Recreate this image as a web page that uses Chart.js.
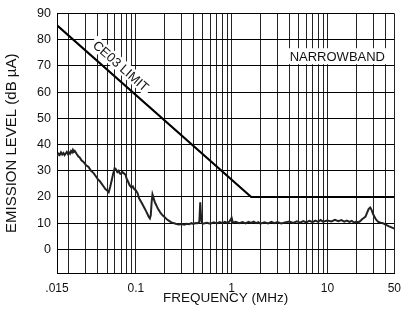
<!DOCTYPE html>
<html>
<head>
<meta charset="utf-8">
<script src="https://cdn.jsdelivr.net/npm/chart.js@4"></script>
<style>
  body { margin: 0; background: #fff; }
  canvas { display: block; }
</style>
</head>
<body>
<canvas id="emiChart" width="409" height="312"></canvas>
<script>
// frequency grid / tick values (MHz)
const freqTicks = [0.015, 0.02, 0.03, 0.04, 0.05, 0.06, 0.07, 0.08, 0.09,
    0.1, 0.2, 0.3, 0.4, 0.5, 0.6, 0.7, 0.8, 0.9,
    1, 2, 3, 4, 5, 6, 7, 8, 9,
    10, 20, 30, 40, 50];
const freqLabels = { '0.015': '.015', '0.1': '0.1', '1': '1', '10': '10', '50': '50' };
const levelTicks = [0, 10, 20, 30, 40, 50, 60, 70, 80, 90];

// CE03 limit line
const limitFreq = [0.015, 1.6, 50];
const limitLevel = [85.5, 20, 20];

// measured narrowband emission
const emiFreq = [
    0.015, 0.0155, 0.016, 0.0165, 0.017, 0.0175, 0.018, 0.0185, 0.019, 0.0195,
    0.02, 0.0205, 0.021, 0.0215, 0.022, 0.0225, 0.023, 0.024, 0.025, 0.026,
    0.027, 0.028, 0.029, 0.03, 0.032, 0.034, 0.036, 0.038, 0.04, 0.042,
    0.044, 0.046, 0.048, 0.05, 0.052, 0.054, 0.056, 0.058, 0.06, 0.062,
    0.064, 0.066, 0.068, 0.07, 0.072, 0.075, 0.078, 0.08, 0.083, 0.086,
    0.09, 0.093, 0.096, 0.1, 0.104, 0.108, 0.112, 0.116, 0.12, 0.124,
    0.128, 0.132, 0.136, 0.14, 0.143, 0.146, 0.149, 0.152, 0.156, 0.16,
    0.165, 0.17, 0.175, 0.18, 0.19, 0.2, 0.21, 0.22, 0.23, 0.24,
    0.26, 0.28, 0.3, 0.32, 0.34, 0.36, 0.38, 0.4, 0.42, 0.44,
    0.46, 0.47, 0.48, 0.49, 0.5, 0.55, 0.6, 0.65, 0.7, 0.75,
    0.8, 0.85, 0.9, 0.95, 1.0, 1.03, 1.1, 1.2, 1.3, 1.4,
    1.5, 1.6, 1.7, 1.8, 1.9, 2.0, 2.2, 2.4, 2.6, 2.8,
    3.0, 3.3, 3.6, 4.0, 4.4, 4.8, 5.2, 5.6, 6.0, 6.5,
    7.0, 7.5, 8.0, 8.5, 9.0, 10, 11, 12, 13, 14,
    15, 16, 17, 18, 19, 20, 21, 22, 23, 24,
    25, 26, 27, 28, 29, 30, 31, 32, 33, 34,
    36, 38, 40, 42, 44, 46, 48, 50
];
const emiLevel = [
    35.5, 36.5, 36, 37, 36.2, 36.8, 36, 36.6, 37.2, 36.4,
    37, 36.5, 37.5, 37, 38, 37.2, 37.6, 36.5, 35.5, 35,
    34, 33.5, 33, 32.2, 31.5, 30, 29.2, 28, 26.8, 26,
    25, 24, 23, 22.5, 21.8, 24, 26.5, 29, 31, 30.5,
    29.5, 30, 29, 28.8, 29.5, 29, 28.5, 27, 25.8, 24.5,
    23.5, 24, 23, 22.5, 21.5, 19.5, 18.5, 17.5, 16.5, 15.5,
    14.5, 13.5, 12.5, 11.8, 13, 18, 21, 20, 18.5, 17.5,
    16.5, 15.5, 14.8, 14, 13, 12.3, 11.5, 11, 10.5, 10.2,
    9.8, 9.5, 9.7, 9.4, 9.8, 9.6, 10, 9.7, 10.1, 10,
    10.5, 18, 12, 10, 9.8, 10.2, 9.8, 10.3, 9.9, 10.4,
    10, 10.5, 10.1, 10.6, 12, 10.2, 10.5, 10, 10.4, 9.9,
    10.5, 10.1, 10.6, 10, 10.4, 9.8, 10.3, 9.9, 10.5, 10,
    10.4, 9.9, 10.3, 10.6, 10.1, 10.7, 10.2, 10.8, 10.3, 10.9,
    10.4, 11, 10.5, 11.2, 10.6, 11, 10.7, 11.3, 10.8, 11.2,
    10.6, 11, 10.5, 10.9, 10.2, 10.6, 10.3, 10.8, 11.5, 12,
    12.5, 14, 15.5, 16, 15, 13.5, 12.5, 11.5, 11, 10.5,
    10.2, 10, 9.6, 9.2, 8.8, 8.5, 8.2, 8
];

const FONT = 'Liberation Sans, Arial, Helvetica, sans-serif';
const INK = '#111';

// text labels drawn on a white patch, placed in data coordinates
const chartNotes = {
    id: 'chartNotes',
    afterDatasetsDraw(chart) {
        const { ctx, scales: { x, y } } = chart;
        const p1x = x.getPixelForValue(limitFreq[0]), p1y = y.getPixelForValue(limitLevel[0]);
        const p2x = x.getPixelForValue(limitFreq[1]), p2y = y.getPixelForValue(limitLevel[1]);
        const angle = Math.atan2(p2y - p1y, p2x - p1x);

        const drawNote = (text, fx, fy, rot, padX, boxH) => {
            ctx.save();
            ctx.font = '13px ' + FONT;
            const w = ctx.measureText(text).width;
            ctx.translate(x.getPixelForValue(fx), y.getPixelForValue(fy));
            ctx.rotate(rot);
            ctx.fillStyle = '#fff';
            ctx.fillRect(-w / 2 - padX, -boxH / 2, w + padX * 2, boxH);
            ctx.fillStyle = INK;
            ctx.textAlign = 'center';
            ctx.textBaseline = 'middle';
            ctx.fillText(text, 0, 1);
            ctx.restore();
        };
        drawNote('CE03 LIMIT', 0.07, 70, angle, 3, 14);
        drawNote('NARROWBAND', 12.7, 73.7, 0, 2, 16);
    }
};

const ctx = document.getElementById('emiChart').getContext('2d');
new Chart(ctx, {
    type: 'line',
    data: {
        datasets: [
            {
                label: 'Emission',
                data: emiFreq.map((f, i) => ({ x: f, y: emiLevel[i] })),
                borderColor: '#222',
                borderWidth: 2,
                pointRadius: 0,
                tension: 0
            },
            {
                label: 'CE03 limit',
                data: limitFreq.map((f, i) => ({ x: f, y: limitLevel[i] })),
                borderColor: '#000',
                borderWidth: 2.2,
                pointRadius: 0,
                tension: 0
            }
        ]
    },
    options: {
        responsive: false,
        animation: false,
        devicePixelRatio: 1,
        layout: { padding: { top: 13, right: 9, left: 0, bottom: 0 } },
        plugins: { legend: { display: false }, tooltip: { enabled: false } },
        scales: {
            x: {
                type: 'logarithmic',
                min: 0.015,
                max: 50,
                afterBuildTicks: (scale) => { scale.ticks = freqTicks.map(v => ({ value: v })); },
                afterFit: (scale) => { scale.height = 39; },
                grid: { color: '#222', lineWidth: 1, drawTicks: false },
                border: { display: true, color: '#000', width: 1 },
                ticks: {
                    autoSkip: false,
                    maxRotation: 0,
                    padding: 8,
                    color: INK,
                    font: { family: FONT, size: 12 },
                    callback: (value) => freqLabels[String(value)] ?? ''
                },
                title: {
                    display: true,
                    text: 'FREQUENCY (MHz)',
                    color: INK,
                    font: { family: FONT, size: 13.5 },
                    padding: { top: 0, bottom: 6 }
                }
            },
            y: {
                min: -9,
                max: 90,
                afterBuildTicks: (scale) => { scale.ticks = levelTicks.map(v => ({ value: v })); },
                afterFit: (scale) => { scale.width = 57; },
                grid: { color: '#000', lineWidth: 1, drawTicks: false },
                border: { display: true, color: '#000', width: 1 },
                ticks: {
                    padding: 6,
                    color: INK,
                    font: { family: FONT, size: 12.5 },
                    callback: (value) => String(value)
                },
                title: {
                    display: true,
                    text: 'EMISSION LEVEL (dB \u00b5A)',
                    color: INK,
                    font: { family: FONT, size: 15 },
                    padding: { top: 3, bottom: 0 }
                }
            }
        }
    },
    plugins: [chartNotes]
});
</script>
</body>
</html>
